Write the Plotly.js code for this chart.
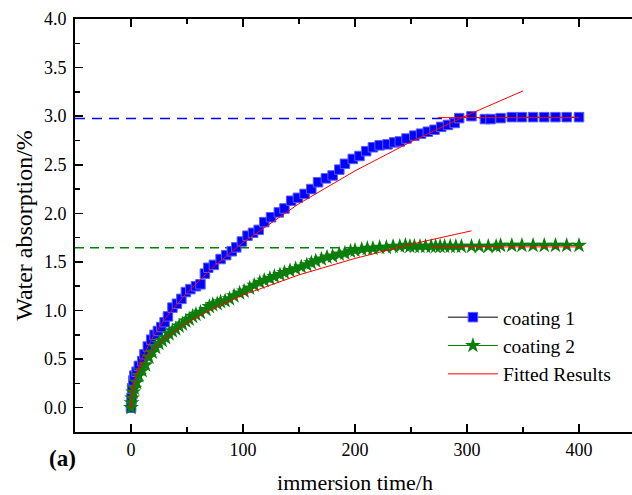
<!DOCTYPE html>
<html>
<head>
<meta charset="utf-8">
<script src="https://cdn.plot.ly/plotly-3.0.1.min.js"></script>
<style>
html,body{margin:0;padding:0;overflow:hidden;background:#fff;}
#chart{width:635px;height:495px;}
</style>
</head>
<body>
<div id="chart"></div>
<script>
// coating 1 measured data (immersion time / h, water absorption / %)
var coating1T = [0,0.5,1,2,3,5,7,10,12,15,18,21,24,27,30,33,37,41,45,49,53,58,62,66,69,74,80,85,90,94,99,104,109,114,119,125,132,137,143,149,155,161,167,174,180,186,191,198,204,210,216,222,229,235,240,246,253,259,265,271,277,283,289,293,304,316,321,330,340,349,359,369,379,389,400];
var coating1V = [0,0.1,0.2,0.28,0.33,0.37,0.43,0.48,0.55,0.63,0.70,0.75,0.79,0.83,0.88,0.94,1.03,1.07,1.12,1.19,1.22,1.25,1.27,1.38,1.44,1.47,1.53,1.57,1.61,1.65,1.71,1.77,1.80,1.83,1.91,1.96,2.01,2.05,2.13,2.16,2.20,2.25,2.32,2.36,2.39,2.45,2.51,2.56,2.59,2.64,2.68,2.70,2.71,2.73,2.74,2.77,2.80,2.82,2.84,2.86,2.89,2.91,2.93,2.98,3.00,2.97,2.97,2.98,2.99,2.99,2.99,2.99,2.99,2.99,2.99];

// coating 2 measured data
var coating2T = [0,0.5,1,2,3,5,7,10,13,16,19,22,25,28,31,34,37,40,43,46,49,52,55,58,62,67,70,73,77,80,84,88,92,97,101,106,110,115,119,124,128,133,137,142,147,152,157,161,165,170,175,180,186,191,196,200,206,211,216,222,228,234,240,245,249,253,258,263,268,272,276,280,285,290,295,304,311,319,326,330,340,349,359,369,379,389,400];
var coating2V = [0,0.05,0.1,0.16,0.2,0.26,0.33,0.38,0.44,0.52,0.57,0.62,0.66,0.69,0.72,0.76,0.79,0.81,0.84,0.86,0.89,0.91,0.94,0.96,0.98,1.01,1.04,1.06,1.07,1.09,1.10,1.12,1.15,1.18,1.20,1.23,1.26,1.29,1.31,1.33,1.35,1.37,1.39,1.41,1.43,1.45,1.47,1.49,1.51,1.53,1.55,1.56,1.58,1.59,1.61,1.62,1.63,1.64,1.64,1.65,1.65,1.66,1.66,1.67,1.66,1.66,1.66,1.66,1.66,1.66,1.66,1.66,1.66,1.66,1.66,1.66,1.66,1.66,1.66,1.67,1.67,1.67,1.67,1.67,1.67,1.67,1.67];

// fitted results
var fit1T = [0,0.5,1,2,5,10,20,30,50,75,100,150,200,250,300,350];
var fit1V = [0,0.108,0.155,0.222,0.358,0.513,0.736,0.909,1.185,1.463,1.699,2.10,2.437,2.737,3.009,3.26];
var plateau1T = [274,400];
var plateau1V = [2.985,2.985];
var fit2T = [0,0.5,1,2,5,10,20,30,50,75,100,150,200,250,304];
var fit2V = [0,0.136,0.18,0.238,0.345,0.457,0.605,0.712,0.876,1.033,1.16,1.367,1.536,1.682,1.82];
var plateau2T = [268,400];
var plateau2V = [1.655,1.655];

// saturation reference lines
var sat1T = [-50,300];
var sat1V = [2.975,2.975];
var sat2T = [-50,230];
var sat2V = [1.645,1.645];

var xTicks = [0,100,200,300,400];
var yTicks = [0,0.5,1,1.5,2,2.5,3,3.5,4];
var yTickText = ['0.0','0.5','1.0','1.5','2.0','2.5','3.0','3.5','4.0'];

var FONT = '"Liberation Serif", "Times New Roman", Times, serif';

function joinSegments(segs){
  var out = [];
  segs.forEach(function(s,i){ if(i>0) out.push(null); out = out.concat(s); });
  return out;
}

var traces = [
  {x: sat1T, y: sat1V, mode:'lines', line:{color:'#0000ff', width:1.5, dash:'10px,7px'}, showlegend:false, hoverinfo:'skip'},
  {x: sat2T, y: sat2V, mode:'lines', line:{color:'#008000', width:1.5, dash:'9px,6px'}, showlegend:false, hoverinfo:'skip'},
  {x: coating1T, y: coating1V, name:'coating 1', mode:'lines+markers',
   line:{color:'#000000', width:1},
   marker:{symbol:'square', size:9.5, color:'#0000ff', line:{color:'#5a5aff', width:1}}},
  {x: coating2T, y: coating2V, name:'coating 2', mode:'lines+markers',
   line:{color:'#008000', width:1},
   marker:{symbol:'star', size:12, color:'#0b7d0b', line:{width:0}}},
  {x: joinSegments([fit1T, plateau1T, fit2T, plateau2T]),
   y: joinSegments([fit1V, plateau1V, fit2V, plateau2V]),
   name:'Fitted Results', mode:'lines', connectgaps:false,
   line:{color:'#ff0000', width:1}}
];

var axisCommon = {
  showline:true, linecolor:'#000', linewidth:2,
  ticks:'inside', ticklen:8, tickwidth:1.5, tickcolor:'#000',
  showgrid:false, zeroline:false,
  tickfont:{family:FONT, size:18, color:'#000'}
};

var layout = {
  width:635, height:495,
  margin:{l:75, r:0, t:19, b:63},
  paper_bgcolor:'#fff', plot_bgcolor:'#fff',
  font:{family:FONT, color:'#000'},
  xaxis: Object.assign({}, axisCommon, {
    mirror:'allticks',
    range:[-50,450], tickmode:'array', tickvals:xTicks,
    minor:{ticks:'inside', ticklen:5, tickwidth:1.5, tickcolor:'#000', dtick:50, tick0:0, showgrid:false},
    title:{text:'immersion time/h', font:{family:FONT, size:22, color:'#000'}, standoff:21}
  }),
  yaxis: Object.assign({}, axisCommon, {
    mirror:false, ticklabelstandoff:3,
    range:[-0.25,4.0], tickmode:'array', tickvals:yTicks, ticktext:yTickText,
    minor:{ticks:'inside', ticklen:5, tickwidth:1.5, tickcolor:'#000', dtick:0.25, tick0:0, showgrid:false},
    title:{text:'Water absorption/%', font:{family:FONT, size:24, color:'#000'}, standoff:5}
  }),
  legend:{x:0.657, y:0.3245, xanchor:'left', yanchor:'top', bgcolor:'rgba(0,0,0,0)',
          font:{family:FONT, size:19.5, color:'#000'}, itemwidth:50, tracegroupgap:0},
  annotations:[{text:'<b>(a)</b>', xref:'paper', yref:'paper', x:-0.022, y:-0.064,
                xanchor:'center', yanchor:'middle', showarrow:false,
                font:{family:FONT, size:23, color:'#000'}}]
};

Plotly.newPlot('chart', traces, layout, {displayModeBar:false, staticPlot:true});
</script>
</body>
</html>
